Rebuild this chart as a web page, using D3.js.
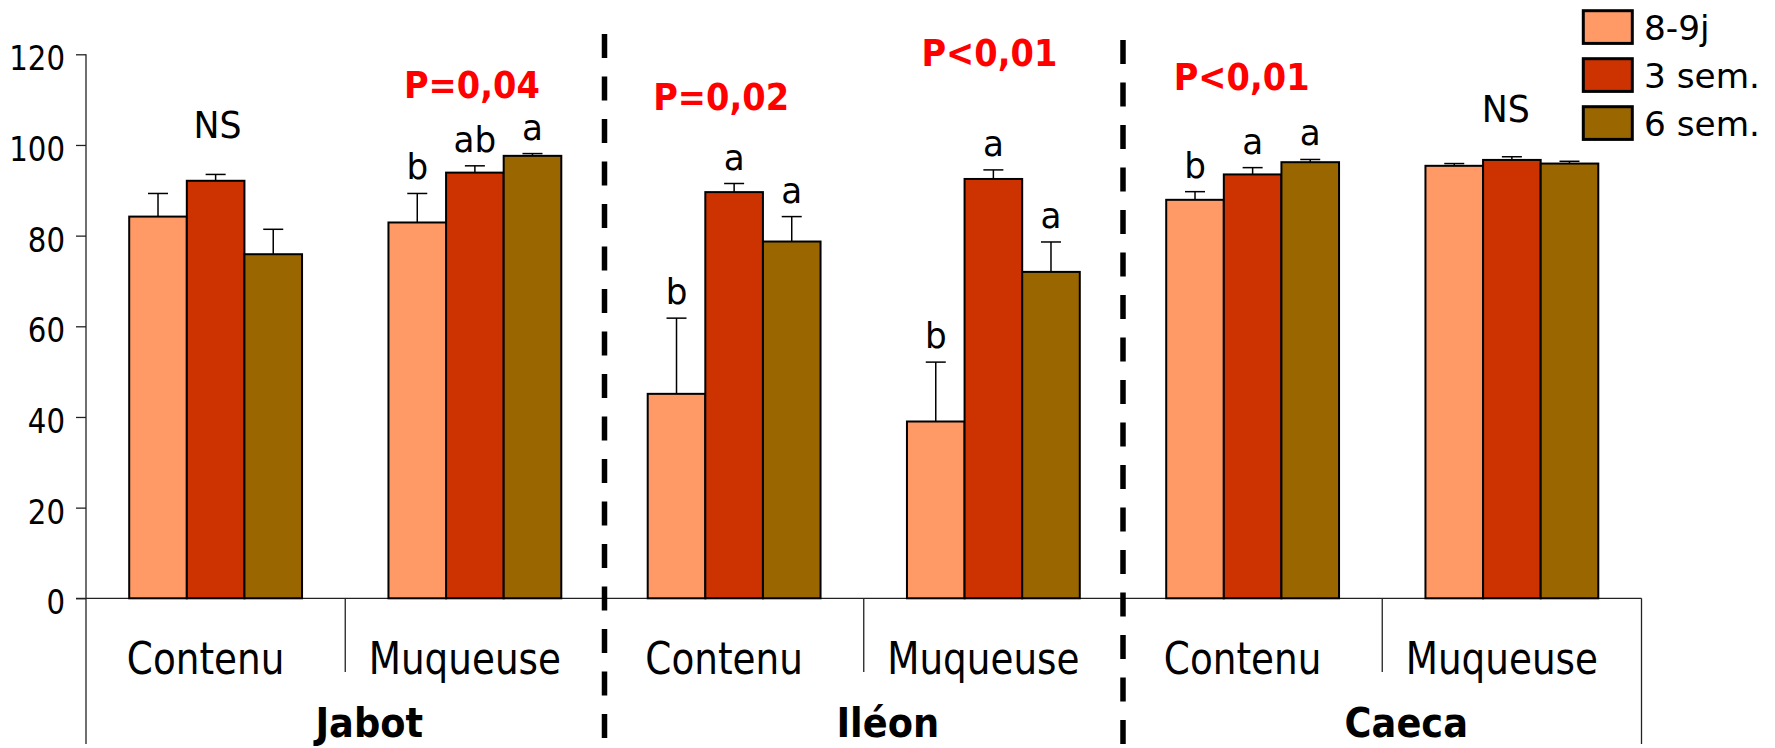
<!DOCTYPE html>
<html><head><meta charset="utf-8">
<script src="https://cdn.jsdelivr.net/npm/d3@7"></script>
<style>html,body{margin:0;padding:0;background:#fff;}svg{display:block;}</style>
</head><body>
<svg id="chart" width="1775" height="748"></svg>
<script>
// ---- data ----
const groups = ["Jabot", "Iléon", "Caeca"];
const categories = ["Contenu", "Muqueuse", "Contenu", "Muqueuse", "Contenu", "Muqueuse"];
const series = ["8-9j", "3 sem.", "6 sem."];
const values89 = [84.2, 82.9, 45.1, 39.0, 87.9, 95.4];
const values3 = [92.1, 93.9, 89.6, 92.5, 93.5, 96.7];
const values6 = [75.9, 97.6, 78.7, 72.0, 96.2, 95.9];
const err89 = [5.1, 6.4, 16.7, 13.1, 1.8, 0.5];
const err3 = [1.4, 1.5, 1.9, 2.0, 1.5, 0.7];
const err6 = [5.5, 0.5, 5.5, 6.6, 0.6, 0.5];
const letters89 = ["", "b", "b", "b", "b", ""];
const letters3 = ["", "ab", "a", "a", "a", ""];
const letters6 = ["", "a", "a", "a", "a", ""];
const statLabels = ["NS", "P=0,04", "P=0,02", "P<0,01", "P<0,01", "NS"];
const yTicks = [0, 20, 40, 60, 80, 100, 120];

// ---- layout / style ----
const colors = ["#FF9966", "#CC3300", "#996600"];
const statY = [137.7, 98.3, 110, 66, 90, 121.7];      // baselines of stat annotations
const statDx = [2, -3, -13, -4, -11, -6];
const statBold = [false, true, true, true, true, false];
const FONT = "DejaVu Sans";

const svg = d3.select("#chart");
const left = 86, right = 1641.5, y0px = 598.3, yTop = 54.3;

const x0 = d3.scaleBand().domain(d3.range(categories.length)).range([left, right]).padding(0);
const x1 = d3.scaleBand().domain(series).range([0, x0.bandwidth()]).paddingInner(0).paddingOuter(0.75);
const y = d3.scaleLinear().domain([0, 120]).range([y0px, yTop]);
const xg = d3.scaleBand().domain(groups).range([left, right]).padding(0);

function addText(parent, x, yy, txt, o) {
  return parent.append("text")
    .attr("transform", `translate(${x},${yy}) scale(${o.sx || 1},1)`)
    .attr("text-anchor", o.anchor || "middle")
    .attr("font-family", FONT)
    .attr("font-size", o.size)
    .attr("font-weight", o.weight || "normal")
    .attr("fill", o.fill || "#000")
    .text(txt);
}

// ---- y axis ----
const yAxis = svg.append("g").attr("transform", `translate(${left},0)`)
  .call(d3.axisLeft(y).tickValues(yTicks).tickSize(10).tickSizeOuter(0));
yAxis.select(".domain").remove();
yAxis.selectAll(".tick line").attr("stroke", "#222").attr("stroke-width", 1.3);
yAxis.selectAll(".tick text")
  .attr("x", null).attr("dy", "0.46em")
  .attr("transform", "translate(-21,0) scale(0.86,1)")
  .attr("font-family", FONT).attr("font-size", 34).attr("fill", "#000")
  .attr("text-anchor", "end");

// axis frame lines
const frame = svg.append("g").attr("stroke", "#222").attr("stroke-width", 1.3);
frame.append("line").attr("x1", left).attr("x2", left).attr("y1", yTop).attr("y2", 744);
frame.append("line").attr("x1", left - 10).attr("x2", right).attr("y1", y0px).attr("y2", y0px);
frame.append("line").attr("x1", right).attr("x2", right).attr("y1", y0px).attr("y2", 744);
// separators between Contenu / Muqueuse inside a group
[1, 3, 5].forEach(i => {
  frame.append("line").attr("x1", x0(i)).attr("x2", x0(i)).attr("y1", y0px).attr("y2", 672);
});

// ---- bars ----
const seriesVals = [values89, values3, values6];
const seriesErr = [err89, err3, err6];
const seriesLetters = [letters89, letters3, letters6];

const rows = [];
categories.forEach((c, i) => {
  series.forEach((s, k) => {
    rows.push({i, k, s, v: seriesVals[k][i], e: seriesErr[k][i], l: seriesLetters[k][i]});
  });
});

const bars = svg.append("g");
rows.forEach(d => {
  const cx = x0(d.i) + x1(d.s) + x1.bandwidth() / 2;
  bars.append("line").attr("x1", cx).attr("x2", cx)
    .attr("y1", y(d.v)).attr("y2", y(d.v + d.e)).attr("stroke", "#000").attr("stroke-width", 1.5);
  bars.append("line").attr("x1", cx - 10).attr("x2", cx + 10)
    .attr("y1", y(d.v + d.e)).attr("y2", y(d.v + d.e)).attr("stroke", "#000").attr("stroke-width", 1.5);
});
bars.selectAll("rect").data(rows).join("rect")
  .attr("x", d => x0(d.i) + x1(d.s))
  .attr("y", d => y(d.v))
  .attr("width", x1.bandwidth())
  .attr("height", d => y(0) - y(d.v))
  .attr("fill", d => colors[d.k])
  .attr("stroke", "#000").attr("stroke-width", 2);

// significance letters
rows.filter(d => d.l).forEach(d => {
  const cx = x0(d.i) + x1(d.s) + x1.bandwidth() / 2;
  addText(svg, cx, y(d.v + d.e) - 14, d.l, {size: 36, sx: 0.95});
});

// stat annotations
statLabels.forEach((t, i) => {
  const cx = x0(i) + x0.bandwidth() / 2 + statDx[i];
  if (statBold[i]) addText(svg, cx, statY[i], t, {size: 36.6, weight: "bold", fill: "#FF0000", sx: 0.92});
  else addText(svg, cx, statY[i], t, {size: 36.6, sx: 0.95});
});

// category labels
categories.forEach((c, i) => {
  addText(svg, x0(i) + x0.bandwidth() / 2 - 10, 673.7, c, {size: 45, sx: 0.83});
});
// group labels
groups.forEach(g => {
  addText(svg, xg(g) + xg.bandwidth() / 2 + 24, 737, g, {size: 40, weight: "bold", sx: 0.92});
});

// dashed group separators
const dashTop = [34, 40];
[1, 2].forEach((gi, j) => {
  const xx = xg(groups[gi]);
  svg.append("line").attr("x1", xx).attr("x2", xx).attr("y1", dashTop[j]).attr("y2", 748)
    .attr("stroke", "#000").attr("stroke-width", 5.5).attr("stroke-dasharray", "24,18.5");
});

// ---- legend ----
const legend = svg.append("g");
series.forEach((s, k) => {
  const ly = 10.7 + k * 48;
  legend.append("rect").attr("x", 1583.3).attr("y", ly).attr("width", 49).attr("height", 32.7)
    .attr("fill", colors[k]).attr("stroke", "#000").attr("stroke-width", 3);
  addText(legend, 1644, ly + 29.5, s, {size: 34.3, anchor: "start", sx: 1});
});
</script>
</body></html>
